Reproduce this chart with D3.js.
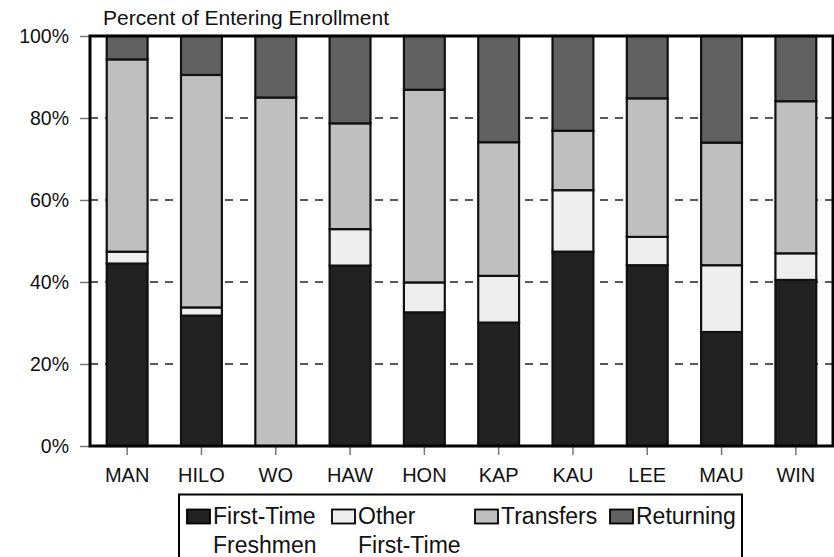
<!DOCTYPE html>
<html>
<head>
<meta charset="utf-8">
<script src="https://cdn.jsdelivr.net/npm/d3@7"></script>
<style>
  html, body { margin: 0; padding: 0; background: #fff; }
  svg { display: block; font-family: "Liberation Sans", Arial, Helvetica, sans-serif; }
</style>
</head>
<body>
<svg id="chart" width="834" height="557"></svg>
<script>
const categories = ["MAN", "HILO", "WO", "HAW", "HON", "KAP", "KAU", "LEE", "MAU", "WIN"];
const firstTimeFreshmen = [44.5, 31.8, 0.0, 44.0, 32.6, 30.1, 47.4, 44.1, 27.8, 40.5];
const otherFirstTime    = [ 2.9,  2.0, 0.0,  8.9,  7.3, 11.4, 15.0,  6.9, 16.3,  6.5];
const transfers         = [46.9, 56.7, 85.0, 25.8, 47.0, 32.6, 14.5, 33.8, 29.9, 37.1];
const returning         = [ 5.7,  9.5, 15.0, 21.3, 13.1, 25.9, 23.1, 15.2, 26.0, 15.9];
const seriesNames = [["First-Time", "Freshmen"], ["Other", "First-Time"], ["Transfers"], ["Returning"]];
const seriesColors = ["#222222", "#eeeeee", "#bfbfbf", "#616161"];
const yTicks = [0, 20, 40, 60, 80, 100];
const yTitle = "Percent of Entering Enrollment";

const svg = d3.select("#chart");
const m = { left: 90, right: 833, top: 36, bottom: 446 };

const x = d3.scaleBand().domain(categories).range([m.left, m.right])
  .paddingInner(0.45).paddingOuter(0.225);
const y = d3.scaleLinear().domain([0, 100]).range([m.bottom, m.top]);

const allSeries = [firstTimeFreshmen, otherFirstTime, transfers, returning];
const rows = categories.map((c, i) => {
  const r = { cat: c };
  allSeries.forEach((s, k) => r["s" + k] = s[i]);
  return r;
});
const stacked = d3.stack().keys(["s0", "s1", "s2", "s3"])(rows);

// gridlines
svg.append("g").selectAll("line")
  .data(yTicks.filter(t => t > 0 && t < 100))
  .join("line")
  .attr("x1", m.left).attr("x2", m.right)
  .attr("y1", d => y(d)).attr("y2", d => y(d))
  .attr("stroke", "#222").attr("stroke-width", 1.3)
  .attr("stroke-dasharray", "8,7");

// bars
const layers = svg.append("g").selectAll("g")
  .data(stacked).join("g")
  .attr("fill", (d, i) => seriesColors[i]);
layers.selectAll("rect")
  .data(d => d.filter(p => p[1] - p[0] > 0))
  .join("rect")
  .attr("x", d => x(d.data.cat))
  .attr("width", x.bandwidth())
  .attr("y", d => y(d[1]))
  .attr("height", d => y(d[0]) - y(d[1]))
  .attr("stroke", "#111").attr("stroke-width", 2.2);

// y axis
const yAxis = d3.axisLeft(y).tickValues(yTicks).tickFormat(d => d + "%").tickSize(10).tickPadding(11);
const ya = svg.append("g").attr("transform", `translate(${m.left},0)`).call(yAxis);
ya.select(".domain").remove();
ya.selectAll(".tick line").attr("stroke", "#777").attr("stroke-width", 1.5);
ya.selectAll(".tick text").attr("font-size", 19.5).attr("fill", "#111")
  .attr("font-family", "Liberation Sans, Arial, sans-serif");

// x axis
const xAxis = d3.axisBottom(x).tickSize(9).tickPadding(13);
const xa = svg.append("g").attr("transform", `translate(0,${m.bottom})`).call(xAxis);
xa.select(".domain").remove();
xa.selectAll(".tick line").attr("stroke", "#777").attr("stroke-width", 1.5);
xa.selectAll(".tick text").attr("font-size", 20).attr("fill", "#111")
  .attr("font-family", "Liberation Sans, Arial, sans-serif");

// frame
svg.append("rect").attr("x", m.left).attr("y", m.top)
  .attr("width", m.right - m.left).attr("height", m.bottom - m.top)
  .attr("fill", "none").attr("stroke", "#000").attr("stroke-width", 3);

// title
svg.append("text").attr("x", 103).attr("y", 25).attr("font-size", 21)
  .attr("fill", "#111").text(yTitle);

// legend
const lg = svg.append("g");
lg.append("rect").attr("x", 179).attr("y", 494.5).attr("width", 563).attr("height", 80)
  .attr("fill", "#fff").attr("stroke", "#000").attr("stroke-width", 2);
const legendX = [187, 332, 475, 610];
seriesNames.forEach((lines, i) => {
  const g = lg.append("g").attr("transform", `translate(${legendX[i]},0)`);
  g.append("rect").attr("x", 0).attr("y", 509.5).attr("width", 23).attr("height", 14)
    .attr("fill", seriesColors[i]).attr("stroke", "#000").attr("stroke-width", 1.8);
  lines.forEach((t, j) => {
    g.append("text").attr("x", 26).attr("y", 524 + j * 28.5)
      .attr("font-size", 23).attr("fill", "#111").text(t);
  });
});
</script>
</body>
</html>
